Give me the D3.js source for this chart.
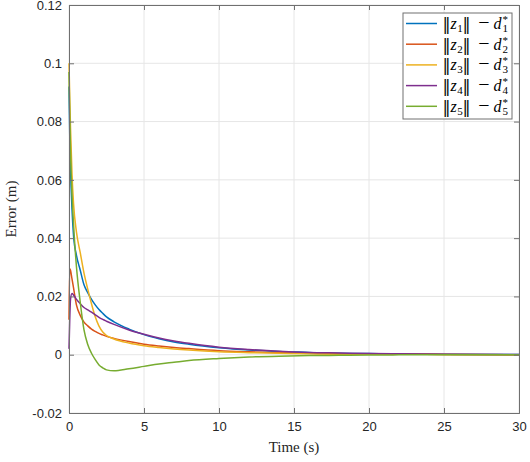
<!DOCTYPE html>
<html><head><meta charset="utf-8">
<script src="https://cdn.jsdelivr.net/npm/d3@7"></script>
<style>body{margin:0;background:#fff}</style>
</head><body>
<svg id="c" width="530" height="462"></svg>
<script>
const times = [0,0.05,0.1,0.2,0.3,0.5,0.75,1,1.25,1.5,1.75,2,2.25,2.5,3,4,5,6,7,8,10,12,14,16,18,20,22,25,30];
const e1 = [0.092,0.075,0.064,0.050,0.041,0.034,0.029,0.024,0.0213,0.019,0.0171,0.0155,0.0142,0.013,0.0113,0.0088,0.0069,0.0055,0.0044,0.0036,0.0024,0.0016,0.0011,0.0008,0.0005,0.0004,0.0003,0.0002,0.0001];
const e2 = [0.012,0.0295,0.029,0.026,0.023,0.017,0.0135,0.0112,0.0099,0.0088,0.008,0.0073,0.0068,0.0063,0.0056,0.0045,0.0036,0.0030,0.0025,0.0021,0.0014,0.0010,0.0007,0.0005,0.0003,0.0002,0.00015,0.0001,0.0];
const e3 = [0.100,0.088,0.078,0.062,0.052,0.042,0.035,0.028,0.0225,0.0175,0.013,0.0098,0.0078,0.0066,0.0054,0.0040,0.0031,0.0025,0.0020,0.0016,0.0010,0.0007,0.0005,0.0003,0.0002,0.0002,0.00015,0.0001,0.0];
const e4 = [0.002,0.012,0.019,0.021,0.0205,0.019,0.0175,0.0162,0.0154,0.0146,0.0137,0.0128,0.0121,0.0115,0.0104,0.0085,0.0070,0.0057,0.0047,0.0039,0.0026,0.0018,0.0012,0.0008,0.0006,0.0004,0.0003,0.0002,0.0001];
const e5 = [0.097,0.082,0.070,0.055,0.045,0.030,0.018,0.0085,0.0035,0.0005,-0.0017,-0.0035,-0.0045,-0.0052,-0.0055,-0.0048,-0.0040,-0.0032,-0.0026,-0.0020,-0.0013,-0.0008,-0.0005,-0.0003,-0.0002,-0.0001,-0.00005,0,0];
const seriesIdx = ["1","2","3","4","5"];
const colors = ["#0072BD","#D95319","#EDB120","#7E2F8E","#77AC30"];
const xTicks = [0,5,10,15,20,25,30];
const yTicks = [-0.02,0,0.02,0.04,0.06,0.08,0.1,0.12];
const yTickLabels = ["-0.02","0","0.02","0.04","0.06","0.08","0.1","0.12"];
const xLabel = "Time (s)", yLabel = "Error (m)";

const svg = d3.select("#c");
const L=69,R=519,T=5,B=413;
const x = d3.scaleLinear().domain([0,30]).range([L,R]);
const y = d3.scaleLinear().domain([-0.02,0.12]).range([B,T]);

// grid
const g = svg.append("g");
g.selectAll(".gx").data(xTicks).join("line").attr("x1",d=>x(d)).attr("x2",d=>x(d)).attr("y1",T).attr("y2",B).attr("stroke","#e6e6e6");
g.selectAll(".gy").data(yTicks).join("line").attr("y1",d=>y(d)).attr("y2",d=>y(d)).attr("x1",L).attr("x2",R).attr("stroke","#e6e6e6");

// lines
const series=[e1,e2,e3,e4,e5];
const line = d3.line().x(d=>x(d[0])).y(d=>y(d[1])).curve(d3.curveMonotoneX);
series.forEach((s,i)=>{
  svg.append("path").datum(times.map((t,j)=>[t,s[j]])).attr("d",line).attr("fill","none").attr("stroke",colors[i]).attr("stroke-width",1.5);
});

// axes
const fontT = "'Liberation Sans', Arial, sans-serif";
const xa = svg.append("g").attr("transform",`translate(0,${B})`).call(d3.axisBottom(x).tickValues(xTicks).tickSize(-5).tickPadding(9));
const xaT = svg.append("g").attr("transform",`translate(0,${T})`).call(d3.axisTop(x).tickValues(xTicks).tickSize(-5).tickFormat(""));
const ya = svg.append("g").attr("transform",`translate(${L},0)`).call(d3.axisLeft(y).tickValues(yTicks).tickSize(-5).tickPadding(7).tickFormat((d,i)=>yTickLabels[i]));
const yaR = svg.append("g").attr("transform",`translate(${R},0)`).call(d3.axisRight(y).tickValues(yTicks).tickSize(-5).tickFormat(""));
[xa,xaT,ya,yaR].forEach(a=>{
  a.selectAll("path,line").attr("stroke","#707070").attr("stroke-width",1);
  a.selectAll("text").attr("fill","#262626").style("font-family",fontT).style("font-size","13px");
});

svg.append("text").attr("x",(L+R)/2).attr("y",452).attr("text-anchor","middle").style("font-family","'Liberation Serif', 'Times New Roman', serif").style("font-size","15px").attr("fill","#262626").text(xLabel);
svg.append("text").attr("transform",`translate(16,${(T+B)/2}) rotate(-90)`).attr("text-anchor","middle").style("font-family","'Liberation Serif', 'Times New Roman', serif").style("font-size","15px").attr("fill","#262626").text(yLabel);

// legend
const lg = svg.append("g");
lg.append("rect").attr("x",403).attr("y",13).attr("width",109).attr("height",106).attr("fill","#fff").attr("stroke","#707070").attr("stroke-width",1);
const serif = "'Liberation Serif', 'Times New Roman', serif";
seriesIdx.forEach((k,i)=>{
  const yy = 23.5 + i*20.7;
  const bl = yy + 5.5;
  lg.append("line").attr("x1",406).attr("x2",437).attr("y1",yy).attr("y2",yy).attr("stroke",colors[i]).attr("stroke-width",1.5);
  const e = lg.append("g").attr("fill","#000");
  e.append("text").attr("x",442.5).attr("y",bl+1).style("font-family","'DejaVu Serif', serif").style("font-size","16px").text("‖");
  const zt = e.append("text").attr("x",450.5).attr("y",bl).style("font-family",serif);
  zt.append("tspan").style("font-size","16px").style("font-style","italic").text("z");
  zt.append("tspan").attr("dy",3).attr("dx",0.5).style("font-size","11px").text(k);
  e.append("text").attr("x",462.5).attr("y",bl+1).style("font-family","'DejaVu Serif', serif").style("font-size","16px").text("‖");
  e.append("text").attr("x",484).attr("y",bl).attr("text-anchor","middle").style("font-family",serif).style("font-size","20px").text("−");
  const dt = e.append("text").attr("x",493.5).attr("y",bl).style("font-family",serif);
  dt.append("tspan").style("font-size","16px").style("font-style","italic").text("d");
  dt.append("tspan").attr("dy",-6).attr("dx",1).style("font-size","11px").text("*");
  dt.append("tspan").attr("dy",9).attr("dx",-5.5).style("font-size","11px").text(k);
});
</script>
</body></html>
